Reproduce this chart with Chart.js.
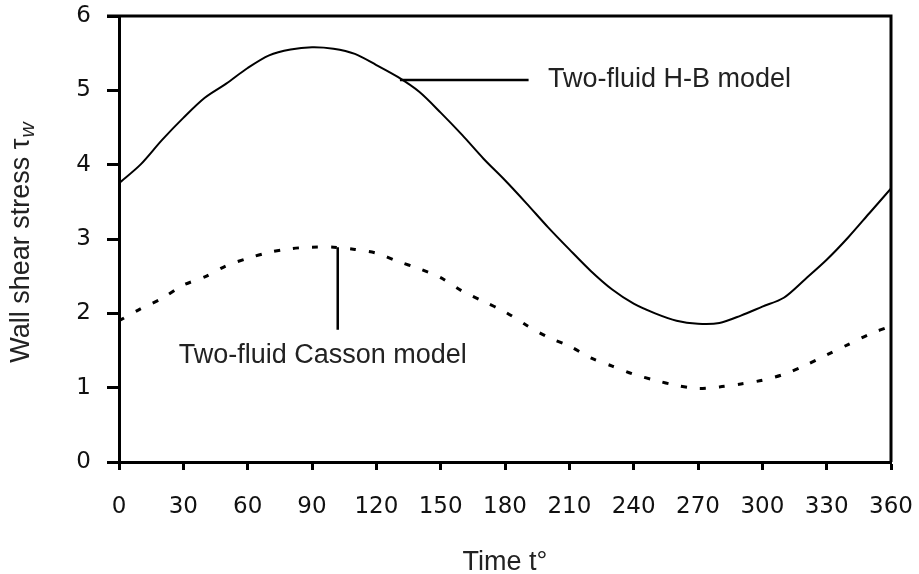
<!DOCTYPE html>
<html>
<head>
<meta charset="utf-8">
<script src="https://cdn.jsdelivr.net/npm/chart.js@4/dist/chart.umd.min.js"></script>
<style>
  body { margin: 0; background: #fff; }
  #wrap { width: 919px; height: 574px; }
</style>
</head>
<body>
<div id="wrap"><canvas id="shear-chart" width="919" height="574"></canvas></div>
<script>
// time in degrees, one point every 10 degrees
var angles = [0, 10, 20, 30, 40, 50, 60, 70, 80, 90, 100, 110, 120, 130, 140, 150, 160, 170, 180,
  190, 200, 210, 220, 230, 240, 250, 260, 270, 280, 290, 300, 310, 320, 330, 340, 350, 360];
var hbStress = [3.75, 4.00, 4.33, 4.63, 4.90, 5.09, 5.30, 5.47, 5.55, 5.58, 5.56, 5.49, 5.34, 5.18,
  4.98, 4.70, 4.40, 4.08, 3.79, 3.48, 3.16, 2.86, 2.57, 2.32, 2.13, 2.00, 1.90, 1.86, 1.87, 1.97,
  2.09, 2.21, 2.46, 2.72, 3.02, 3.35, 3.68];
var cassonStress = [1.90, 2.06, 2.20, 2.38, 2.49, 2.64, 2.74, 2.82, 2.87, 2.89, 2.89, 2.86, 2.81,
  2.70, 2.60, 2.48, 2.30, 2.16, 2.02, 1.84, 1.68, 1.56, 1.40, 1.29, 1.18, 1.10, 1.03, 0.99, 1.01,
  1.05, 1.10, 1.18, 1.30, 1.44, 1.58, 1.72, 1.83];
var xTicks = [0, 30, 60, 90, 120, 150, 180, 210, 240, 270, 300, 330, 360];
var yTicks = [0, 1, 2, 3, 4, 5, 6];

// callout labels, placed in data units
var hbNote = { text: 'Two-fluid H-B model', from: [131, 5.14], to: 191, textX: 200 };
var cassonNote = { text: 'Two-fluid Casson model', from: [102, 2.89], to: 1.78, textAt: [95, 1.43] };

function toPoints(ys) {
  return angles.map(function (a, i) { return { x: a, y: ys[i] }; });
}

var tickFont = { family: 'DejaVu Sans, sans-serif', size: 23 };
var textFont = '27px "Liberation Sans", Arial, sans-serif';
var subFont = 'italic 21px "Liberation Sans", Arial, sans-serif';

var extras = {
  id: 'extras',
  afterDraw: function (chart) {
    var ctx = chart.ctx, a = chart.chartArea;
    var xs = chart.scales.x, ys = chart.scales.y;
    ctx.save();
    // box top + right
    ctx.strokeStyle = '#000';
    ctx.lineWidth = 3;
    ctx.beginPath();
    ctx.moveTo(a.left - 12, a.top);
    ctx.lineTo(a.right, a.top);
    ctx.lineTo(a.right, a.bottom);
    ctx.stroke();

    // callouts
    ctx.lineWidth = 2.5;
    ctx.beginPath();
    ctx.moveTo(xs.getPixelForValue(hbNote.from[0]), ys.getPixelForValue(hbNote.from[1]));
    ctx.lineTo(xs.getPixelForValue(hbNote.to), ys.getPixelForValue(hbNote.from[1]));
    ctx.moveTo(xs.getPixelForValue(cassonNote.from[0]), ys.getPixelForValue(cassonNote.from[1]));
    ctx.lineTo(xs.getPixelForValue(cassonNote.from[0]), ys.getPixelForValue(cassonNote.to));
    ctx.stroke();

    ctx.fillStyle = '#222';
    ctx.font = textFont;
    ctx.textBaseline = 'middle';
    ctx.textAlign = 'left';
    ctx.fillText(hbNote.text, xs.getPixelForValue(hbNote.textX), ys.getPixelForValue(hbNote.from[1]));
    ctx.textAlign = 'center';
    ctx.fillText(cassonNote.text, xs.getPixelForValue(cassonNote.textAt[0]), ys.getPixelForValue(cassonNote.textAt[1]));

    // x title
    ctx.fillText('Time t°', (a.left + a.right) / 2, 563);

    // y title with subscript w
    ctx.translate(22, 243);
    ctx.rotate(-Math.PI / 2);
    var main = 'Wall shear stress τ';
    ctx.font = textFont;
    var w1 = ctx.measureText(main).width;
    ctx.font = subFont;
    var w2 = ctx.measureText('w').width;
    var x0 = -(w1 + w2) / 2;
    ctx.textAlign = 'left';
    ctx.font = textFont;
    ctx.fillText(main, x0, 0);
    ctx.font = subFont;
    ctx.fillText('w', x0 + w1 + 1, 6);
    ctx.restore();
  }
};

var ctx = document.getElementById('shear-chart').getContext('2d');
new Chart(ctx, {
  type: 'line',
  data: {
    datasets: [{
      label: 'Two-fluid H-B model',
      data: toPoints(hbStress),
      borderColor: '#000',
      borderWidth: 2,
      pointRadius: 0,
      tension: 0.3,
      fill: false
    }, {
      label: 'Two-fluid Casson model',
      data: toPoints(cassonStress),
      borderColor: '#000',
      borderWidth: 3,
      borderDash: [6, 13],
      pointRadius: 0,
      tension: 0.3,
      fill: false
    }]
  },
  options: {
    responsive: false,
    animation: false,
    layout: { padding: { top: 16, right: 28, left: 0, bottom: 0 } },
    plugins: { legend: { display: false }, tooltip: { enabled: false } },
    scales: {
      x: {
        type: 'linear',
        min: 0,
        max: 360,
        afterBuildTicks: function (s) { s.ticks = xTicks.map(function (v) { return { value: v }; }); },
        afterFit: function (s) { s.height = 112; s.paddingLeft = 0; s.paddingRight = 0; },
        ticks: { font: tickFont, color: '#111', padding: 23, maxRotation: 0, autoSkip: false },
        grid: { drawOnChartArea: false, tickLength: 8, tickWidth: 3, tickColor: '#000' },
        border: { color: '#000', width: 3 }
      },
      y: {
        min: 0,
        max: 6,
        afterBuildTicks: function (s) { s.ticks = yTicks.map(function (v) { return { value: v }; }); },
        afterFit: function (s) { s.width = 119; s.paddingTop = 0; s.paddingBottom = 0; },
        ticks: { font: tickFont, color: '#111', padding: 16 },
        grid: { drawOnChartArea: false, tickLength: 12, tickWidth: 3, tickColor: '#000' },
        border: { color: '#000', width: 3 }
      }
    }
  },
  plugins: [extras]
});
</script>
</body>
</html>
